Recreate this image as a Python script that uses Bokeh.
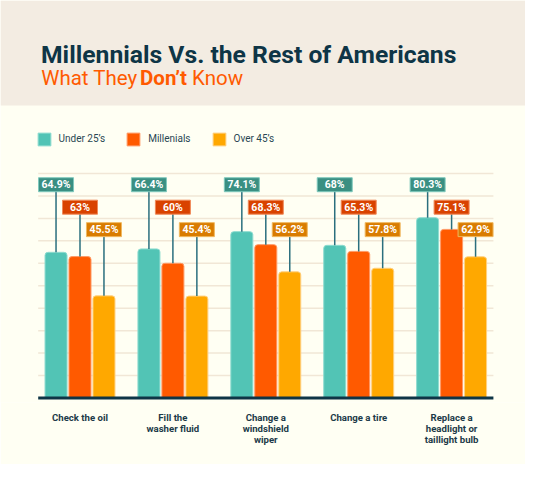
from bokeh.plotting import figure
from bokeh.models import (Range1d, FixedTicker, Label, BoxAnnotation, Legend, LegendItem,
                          ColumnDataSource)
from bokeh.core.properties import value
from bokeh.embed import file_html
from bokeh.resources import INLINE

# ---- data ----
categories = ["Check the oil", "Fill the\nwasher fluid", "Change a\nwindshield\nwiper",
              "Change a tire", "Replace a\nheadlight or\ntaillight bulb"]
series_names = ["Under 25’s", "Millenials", "Over 45’s"]
under25 = [64.9, 66.4, 74.1, 68.0, 80.3]
millenials = [63.0, 60.0, 68.3, 65.3, 75.1]
over45 = [45.5, 45.4, 56.2, 57.8, 62.9]
grid_ticks = [10, 20, 30, 40, 50, 60, 70, 80, 90, 100]

# ---- styles ----
bar_colors = ["#52c4b5", "#ff5a00", "#ffa800"]
bar_edges = ["#8fdcd0", "#ff9a66", "#ffd080"]
box_colors = ["#3a8f82", "#d94200", "#d97c00"]
box_edges = ["#7fc9bd", "#f08a5a", "#f0b860"]
label_levels = [95, 85, 75]
offsets = [-0.258, 0.0, 0.258]
BG = "#fffff3"
HEADER = "#f3ece2"
NAVY = "#0e3546"
FONT = "Roboto"

W, H = 525, 464
# pixel geometry (figure pixels)
BASE_PX = 397.5
PXU_Y = 2.245
FRAME_BOTTOM_PX = 402.0
X0_PX = 79.5
PXU_X = 92.9

y_start = -(FRAME_BOTTOM_PX - BASE_PX) / PXU_Y
y_end = BASE_PX / PXU_Y
x_start = -X0_PX / PXU_X
x_end = (W - X0_PX) / PXU_X

p = figure(width=W, height=H, output_backend="svg", toolbar_location=None,
           x_range=Range1d(x_start, x_end), y_range=Range1d(y_start, y_end),
           y_axis_location=None, min_border_left=0, min_border_right=0,
           min_border_top=0, min_border_bottom=int(H - FRAME_BOTTOM_PX))
p.background_fill_color = BG
p.border_fill_color = BG
p.outline_line_color = None
p.xgrid.visible = False
p.ygrid.visible = False

def px_to_y(py):
    return (BASE_PX - py) / PXU_Y

# header band
p.add_layout(BoxAnnotation(bottom=px_to_y(105), fill_color=HEADER, fill_alpha=1,
                           line_color=None, level="underlay"))

n = len(categories)
xs = list(range(n))
gx0 = -0.45
gx1 = n - 1 + 0.45
p.segment(x0=[gx0] * len(grid_ticks), x1=[gx1] * len(grid_ticks), y0=grid_ticks, y1=grid_ticks,
          line_color="#f1e7d6", line_width=1.5)

all_series = [under25, millenials, over45]
renderers = []
for i, vals in enumerate(all_series):
    bx = [x + offsets[i] for x in xs]
    src = ColumnDataSource(dict(x=bx, top=vals,
                                ly=[label_levels[i]] * n,
                                txt=[f"{v:g}%" for v in vals]))
    r = p.vbar(x="x", top="top", bottom=0, width=0.237, source=src,
               fill_color=bar_colors[i], line_color=bar_edges[i], line_width=1,
               border_radius=(3, 3, 0, 0))
    renderers.append(r)
    p.segment(x0="x", x1="x", y0="top", y1="ly", source=src, line_color="#2b6f7e", line_width=1.5)
    p.rect(x="x", y="ly", width=35, height=14, width_units="screen", height_units="screen",
           source=src, fill_color=box_colors[i], line_color=box_edges[i], line_width=1)
    p.text(x="x", y="ly", text="txt", source=src, text_align="center", text_baseline="middle",
           text_color="white", text_font_size="10.5px", text_font_style="bold",
           text_font=value(FONT))

# baseline
p.segment(x0=[gx0], x1=[gx1], y0=[0], y1=[0], line_color=NAVY, line_width=3)

# axis labels
ax = p.xaxis[0]
ax.ticker = FixedTicker(ticks=xs)
ax.major_label_overrides = {i: c for i, c in enumerate(categories)}
ax.axis_line_color = None
ax.major_tick_line_color = None
ax.minor_tick_line_color = None
ax.major_tick_in = 0
ax.major_tick_out = 0
ax.major_label_standoff = 9
ax.major_label_text_font = FONT
ax.major_label_text_font_style = "bold"
ax.major_label_text_font_size = "9.6px"
ax.major_label_text_color = "#1c3a48"
ax.major_label_text_line_height = 1.0

# legend
legend = Legend(items=[LegendItem(label=series_names[i], renderers=[renderers[i]]) for i in range(3)],
                orientation="horizontal", location=(35.5, FRAME_BOTTOM_PX - 146.7),
                glyph_width=16, glyph_height=16, label_standoff=7, spacing=20,
                padding=0, margin=0, border_line_color=None, background_fill_alpha=0,
                label_height=16, label_width=10, label_text_font=FONT, label_text_font_size="10px",
                label_text_color="#2a4753", label_text_baseline="middle")
p.add_layout(legend, "center")

def sy(py):
    return FRAME_BOTTOM_PX - py

p.add_layout(Label(x=40.5, y=sy(54), x_units="screen", y_units="screen",
                   text="Millennials Vs. the Rest of Americans", text_font=FONT,
                   text_font_style="bold", text_font_size="24.7px", text_color=NAVY,
                   text_baseline="alphabetic"))
sub = dict(x_units="screen", y_units="screen", text_font=FONT, text_font_size="20.5px",
           text_color="#ff5a00", text_baseline="alphabetic")
p.add_layout(Label(x=40.7, y=sy(77.3), text="What They", **sub))
p.add_layout(Label(x=139.5, y=sy(77.3), text="Don’t", text_font_style="bold", **sub))
p.add_layout(Label(x=191.5, y=sy(77.3), text="Know", **sub))

open("out.html", "w").write(file_html(p, INLINE))
